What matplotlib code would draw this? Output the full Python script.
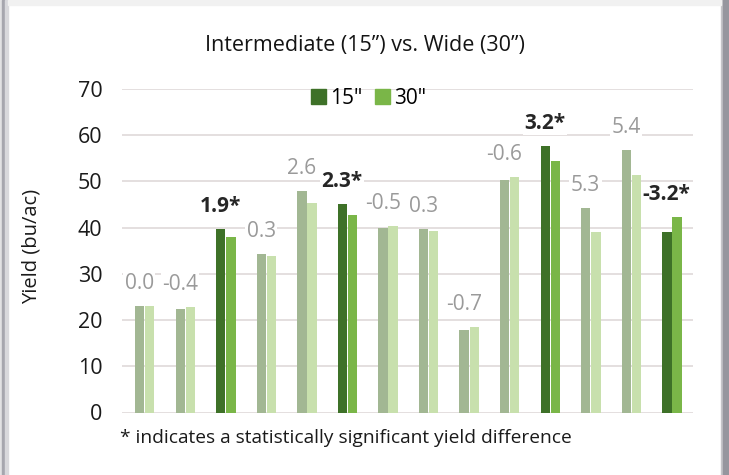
import matplotlib
matplotlib.use("Agg")
import matplotlib.pyplot as plt
from matplotlib.patches import Patch, Rectangle
import numpy as np

plt.rcParams['font.family'] = ['Open Sans', 'DejaVu Sans']

# yield (bu/ac) per site, 15" vs 30" rows
yield_15 = [23.0, 22.5, 39.8, 34.2, 48.0, 45.1, 39.9, 39.6, 17.8, 50.4, 57.7, 44.3, 56.8, 39.0]
yield_30 = [23.0, 22.9, 37.9, 33.9, 45.4, 42.8, 40.4, 39.3, 18.5, 51.0, 54.5, 39.0, 51.4, 42.2]
significant = [False, False, True, False, False, True, False,
               False, False, False, True, False, False, True]
yticks = [0, 10, 20, 30, 40, 50, 60, 70]

dark_15, dark_30 = '#3e7128', '#7ab648'
pale_15, pale_30 = '#a2b793', '#c8e0ad'

W, H = 729, 475
fig = plt.figure(figsize=(W / 100, H / 100), dpi=100)

# card frame: grey edges left/right, light shadow on top
fig.patches.append(Rectangle((0, 0), 2 / W, 1, transform=fig.transFigure, color='#e2e2e4', zorder=0))
fig.patches.append(Rectangle((2 / W, 0), 3 / W, 1, transform=fig.transFigure, color='#a6a6ae', zorder=0))
fig.patches.append(Rectangle((5 / W, 0), 3 / W, 1, transform=fig.transFigure, color='#d8d8dc', zorder=0))
fig.patches.append(Rectangle((721 / W, 0), 2 / W, 1, transform=fig.transFigure, color='#c4c4c8', zorder=0))
fig.patches.append(Rectangle((723 / W, 0), 6 / W, 1, transform=fig.transFigure, color='#96969e', zorder=0))
fig.patches.append(Rectangle((8 / W, 1 - 5 / H), 713 / W, 5 / H, transform=fig.transFigure, color='#f1f1f1', zorder=0))

ax = fig.add_axes([122 / W, 62.5 / H, 571 / W, 323.5 / H])
ax.patch.set_alpha(0)

x = np.arange(len(yield_15))
c15 = [dark_15 if s else pale_15 for s in significant]
c30 = [dark_30 if s else pale_30 for s in significant]
ax.bar(x - 0.125, yield_15, width=0.23, color=c15, zorder=2)
ax.bar(x + 0.125, yield_30, width=0.23, color=c30, zorder=2)

# difference labels above each pair
for i in range(len(x)):
    d = round(yield_15[i] - yield_30[i], 1) + 0.0
    top = max(yield_15[i], yield_30[i])
    if significant[i]:
        txt, col, wt = f"{d:.1f}*", '#262626', 'bold'
    else:
        txt, col, wt = f"{d:.1f}", '#9a9a9a', 'normal'
    ax.annotate(txt, (x[i] - 0.13, top), xytext=(0, 17), textcoords='offset pixels',
                ha='center', va='baseline', fontsize=15, color=col, fontweight=wt,
                bbox=dict(facecolor='white', edgecolor='none', pad=1), zorder=3)

ax.set_xlim(-0.56, 13.52)
ax.set_ylim(0, 70)
ax.set_yticks(yticks)
ax.set_xticks([])
ax.tick_params(axis='y', length=0, pad=14, labelsize=15.5, labelcolor='#1a1a1a')
ax.yaxis.grid(True, color='#dcd6d6', linewidth=1.1, zorder=0)
ax.set_axisbelow(True)
for s in ax.spines.values():
    s.set_visible(False)

handles = [Patch(color=dark_15, label='15"'), Patch(color=dark_30, label='30"')]
fig.legend(handles=handles, loc='center', bbox_to_anchor=(368.5 / W, 1 - 98 / H),
           ncol=2, frameon=False, fontsize=15, handlelength=0.72, handleheight=0.72,
           handletextpad=0.2, columnspacing=0.6, borderpad=0)

fig.text(0.5, 1 - 45 / H, 'Intermediate (15\u201d) vs. Wide (30\u201d)', ha='center', va='center',
         fontsize=15.5, color='#141414')
fig.text(32 / W, 1 - 246.5 / H, 'Yield (bu/ac)', rotation=90, ha='center', va='center',
         fontsize=14.5, color='#1a1a1a')
fig.text(120 / W, 1 - 438 / H, '* indicates a statistically significant yield difference',
         ha='left', va='center', fontsize=13.8, color='#1a1a1a')

fig.savefig('out.png', dpi=100)
